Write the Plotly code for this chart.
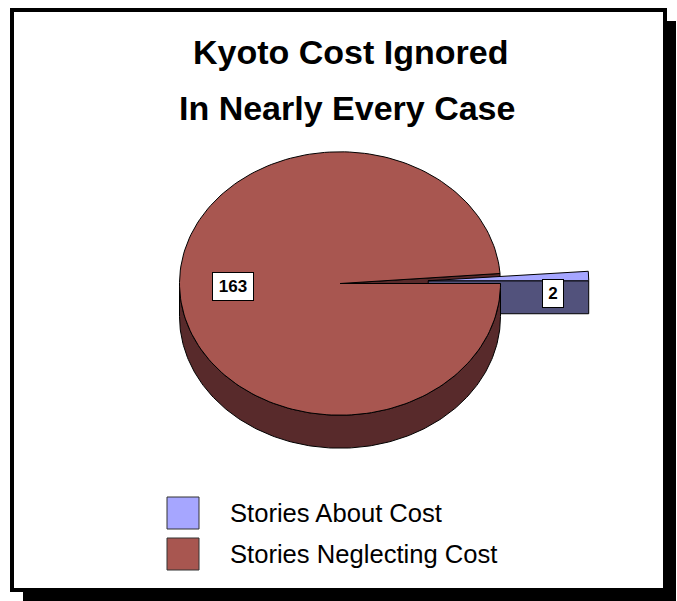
import numpy as np
import plotly.graph_objects as go

# ---- data ----
categories = ["Stories About Cost", "Stories Neglecting Cost"]
story_counts = [2, 163]
top_colors = ["#A6A6FF", "#A85650"]
side_colors = ["#52527C", "#582A2B"]
explode = [0.55, 0.0]

title_lines = ["Kyoto Cost Ignored", "In Nearly Every Case"]

# ---- canvas / pie geometry (pixel space) ----
W, H = 677, 601
CX, CY = 340.0, 283.5      # centre of top face
RX, RY = 160.5, 131.7      # ellipse radii of top face
DEPTH = 33.0               # extrusion of the 3-D pie
FIRST_SLICE_DEG = 90 - 360 * story_counts[0] / sum(story_counts)  # Excel-style rotation
FONT = "Liberation Sans, Arial, sans-serif"

total = float(sum(story_counts))
start = 90 - FIRST_SLICE_DEG  # math angle where slices begin (clockwise sweep)

slices = []
a = start
for i, v in enumerate(story_counts):
    sweep = 360.0 * v / total
    s, e = a, a - sweep
    mid = np.radians((s + e) / 2)
    ox = explode[i] * RX * np.cos(mid)
    oy = -explode[i] * RY * np.sin(mid)
    slices.append(dict(s=s, e=e, ox=ox, oy=oy, mid=mid))
    a = e


def pt(deg, ox, oy, dz=0.0, r=1.0):
    t = np.radians(deg)
    return CX + ox + r * RX * np.cos(t), CY + oy - r * RY * np.sin(t) + dz


def arc(d0, d1, ox, oy, dz=0.0, n=200):
    ts = np.linspace(d0, d1, n)
    xs, ys = pt(ts, ox, oy, dz)
    return list(xs), list(ys)


fig = go.Figure()


def poly(xs, ys, color, lw=1.0):
    fig.add_trace(go.Scatter(
        x=xs + [xs[0]], y=ys + [ys[0]], mode="lines", fill="toself",
        fillcolor=color, line=dict(color="black", width=lw),
        hoverinfo="skip", showlegend=False))


def cut_face(deg, sl, color):
    ax, ay = CX + sl["ox"], CY + sl["oy"]
    ex, ey = pt(deg, sl["ox"], sl["oy"])
    poly([ax, ex, ex, ax], [ay, ey, ey + DEPTH, ay + DEPTH], color)


def side_face(sl, color):
    # visible outer wall: front half of the ellipse (math angles 180..360)
    lo, hi = min(sl["s"], sl["e"]), max(sl["s"], sl["e"])
    for k in (-360, 0, 360):
        a0, a1 = max(lo, 180 + k), min(hi, 360 + k)
        if a1 > a0:
            tx, ty = arc(a0, a1, sl["ox"], sl["oy"])
            bx, by = arc(a1, a0, sl["ox"], sl["oy"], DEPTH)
            poly(tx + bx, ty + by, color)


def top_face(sl, color):
    tx, ty = arc(sl["s"], sl["e"], sl["ox"], sl["oy"])
    poly([CX + sl["ox"]] + tx, [CY + sl["oy"]] + ty, color)


small, big = slices[0], slices[1]
# painter's order: faces furthest back first
cut_face(big["e"], big, side_colors[1])
cut_face(small["e"], small, side_colors[0])
top_face(small, top_colors[0])
side_face(big, side_colors[1])
top_face(big, top_colors[1])

# ---- value labels ----
label_r = [0.775, 0.67]
label_dz = [0.5, 0.0]
label_box = [(18, 25), (38, 25)]
annotations = []
for i, sl in enumerate(slices):
    lx, ly = pt(np.degrees(sl["mid"]), sl["ox"], sl["oy"], label_dz[i] * DEPTH, label_r[i])
    annotations.append(dict(
        x=lx, y=ly, xref="x", yref="y", text=f"<b>{story_counts[i]}</b>",
        showarrow=False, font=dict(family=FONT, size=17, color="black"),
        bgcolor="white", bordercolor="black", borderwidth=1, borderpad=1,
        width=label_box[i][0], height=label_box[i][1], align="center"))

# ---- title ----
for line, xx, yy in zip(title_lines, (350.5, 347), (52, 108)):
    annotations.append(dict(
        x=xx, y=yy, xref="x", yref="y", text=f"<b>{line}</b>", showarrow=False,
        font=dict(family=FONT, size=34, color="black"), xanchor="center", yanchor="middle"))

# ---- frame and legend ----
shapes = [
    # drop shadow and framed panel
    dict(type="rect", xref="x", yref="y", x0=23, y0=21, x1=676, y1=601,
         fillcolor="black", line=dict(width=0), layer="below"),
    dict(type="rect", xref="x", yref="y", x0=12, y0=10, x1=665, y1=590,
         fillcolor="white", line=dict(color="black", width=4), layer="below"),
]
for i, name in enumerate(categories):
    y0 = 497 + 41 * i
    shapes.append(dict(type="rect", xref="x", yref="y", x0=167, y0=y0, x1=199, y1=y0 + 32,
                       fillcolor=top_colors[i], line=dict(color="#333333", width=1)))
    annotations.append(dict(
        x=228, y=y0 + 16, xref="x", yref="y", text=name, showarrow=False,
        font=dict(family=FONT, size=25.6, color="black"), xanchor="left", yanchor="middle"))

fig.update_layout(
    width=W, height=H, margin=dict(l=0, r=0, t=0, b=0),
    paper_bgcolor="white", plot_bgcolor="rgba(0,0,0,0)",
    xaxis=dict(range=[0, W], visible=False, fixedrange=True),
    yaxis=dict(range=[H, 0], visible=False, fixedrange=True),
    shapes=shapes, annotations=annotations, showlegend=False,
)

fig.write_html("out.html")
